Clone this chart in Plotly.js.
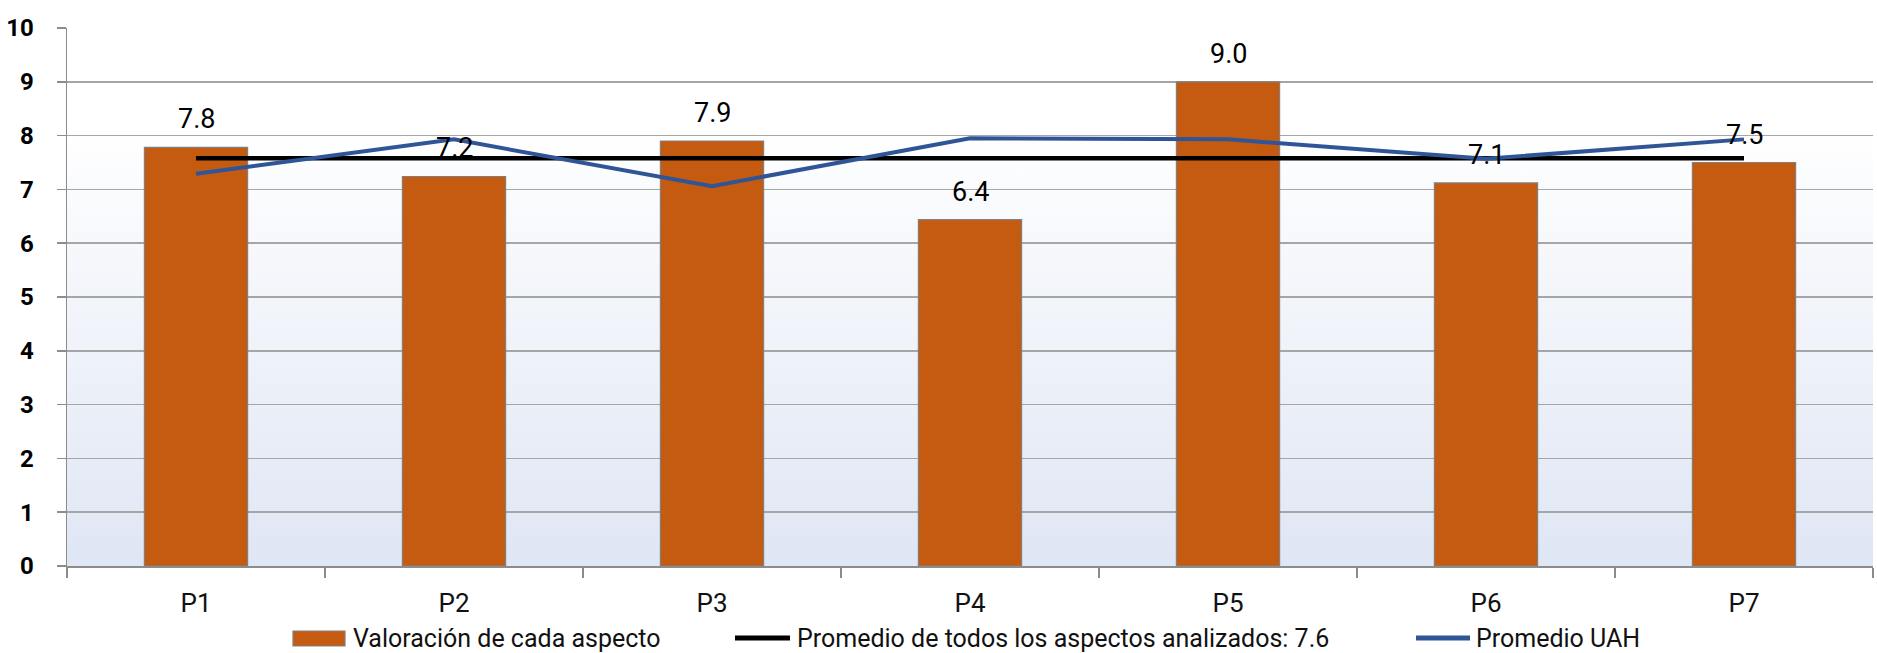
<!DOCTYPE html>
<html>
<head>
<meta charset="utf-8">
<script src="https://cdn.plot.ly/plotly-3.0.1.min.js"></script>
<style>
  html, body { margin: 0; padding: 0; background: #ffffff; }
  #wrap { position: relative; width: 1877px; height: 653px; }
  #bg { position: absolute; left: 67px; top: 28px; width: 1806px; height: 538px;
        background: linear-gradient(to bottom, #ffffff 0%, #ffffff 18%, #dfe6f4 100%); }
  #chart { position: absolute; left: 0; top: 0; width: 1877px; height: 653px; }
</style>
</head>
<body>
<div id="wrap">
  <div id="bg"></div>
  <div id="chart"></div>
</div>
<script>
const categories = ["P1", "P2", "P3", "P4", "P5", "P6", "P7"];
const valoracion = [7.78, 7.24, 7.9, 6.44, 9.0, 7.12, 7.5];
const promedioTodos = [7.58, 7.58, 7.58, 7.58, 7.58, 7.58, 7.58];
const promedioUAH = [7.29, 7.93, 7.06, 7.95, 7.93, 7.57, 7.93];
const yTickVals = [0, 1, 2, 3, 4, 5, 6, 7, 8, 9, 10];
const seriesNames = ["Valoración de cada aspecto", "Promedio de todos los aspectos analizados: 7.6", "Promedio UAH"];
const seriesColors = ["#C55A11", "#000000", "#2F5597"];

const FONT = "Roboto, 'DejaVu Sans', sans-serif";

const traces = [
  {
    type: "bar", x: categories, y: valoracion, name: seriesNames[0],
    width: 0.4,
    marker: { color: seriesColors[0], line: { color: "#808080", width: 1.2 } }
  },
  {
    type: "scatter", mode: "lines", x: categories, y: promedioTodos, name: seriesNames[1],
    line: { color: seriesColors[1], width: 4.5 }
  },
  {
    type: "scatter", mode: "lines", x: categories, y: promedioUAH, name: seriesNames[2],
    line: { color: seriesColors[2], width: 4 }
  }
];

// plot-area geometry (pixels) used to place the hand-built legend
const M = { l: 67, r: 4, t: 28, b: 87 };
const W = 1877, H = 653;
const PW = W - M.l - M.r, PH = H - M.t - M.b;
const px = v => (v - M.l) / PW;
const py = v => (H - M.b - v) / PH;

const annotations = categories.map((c, i) => ({
  x: c, y: valoracion[i], xref: "x", yref: "y",
  text: valoracion[i].toFixed(1), showarrow: false,
  yanchor: "bottom", yshift: 10,
  font: { family: FONT, size: 27, color: "#000000" }
}));

const legendY = 638;
const legendTextX = [352, 796, 1475];
legendTextX.forEach((lx, i) => {
  annotations.push({
    xref: "paper", yref: "paper", x: px(lx), y: py(legendY),
    xanchor: "left", yanchor: "middle", showarrow: false,
    text: seriesNames[i], borderpad: 0,
    font: { family: FONT, size: 25, color: "#111111" }
  });
});

const shapes = [
  { type: "rect", xref: "paper", yref: "paper",
    x0: px(293), x1: px(345), y0: py(646), y1: py(631),
    fillcolor: seriesColors[0], line: { color: "#808080", width: 1.2 } },
  { type: "line", xref: "paper", yref: "paper",
    x0: px(735), x1: px(790), y0: py(legendY), y1: py(legendY),
    line: { color: seriesColors[1], width: 5 } },
  { type: "line", xref: "paper", yref: "paper",
    x0: px(1416), x1: px(1470), y0: py(legendY), y1: py(legendY),
    line: { color: seriesColors[2], width: 5 } }
];

const layout = {
  width: W, height: H,
  margin: { l: M.l, r: M.r, t: M.t, b: M.b, autoexpand: false },
  paper_bgcolor: "rgba(0,0,0,0)",
  plot_bgcolor: "rgba(0,0,0,0)",
  showlegend: false,
  xaxis: {
    type: "category",
    tickson: "boundaries",
    ticks: "outside", ticklen: 10, tickcolor: "#8c8c8c", tickwidth: 1.5,
    showgrid: false,
    showline: true, linecolor: "#8c8c8c", linewidth: 1.5,
    tickfont: { family: FONT, size: 26, color: "#111111" },
    ticklabelstandoff: 13
  },
  yaxis: {
    range: [0, 10], tickvals: yTickVals,
    ticks: "outside", ticklen: 9, tickcolor: "#8c8c8c", tickwidth: 1.5,
    showgrid: true, gridcolor: "#a6a6a6", gridwidth: 1.5,
    showline: true, linecolor: "#8c8c8c", linewidth: 1.5,
    zeroline: false,
    tickfont: { family: FONT, size: 24, color: "#000000", weight: "bold" },
    ticklabelstandoff: 18
  },
  annotations: annotations,
  shapes: shapes
};

Plotly.newPlot("chart", traces, layout, { displayModeBar: false, staticPlot: true });
</script>
</body>
</html>
